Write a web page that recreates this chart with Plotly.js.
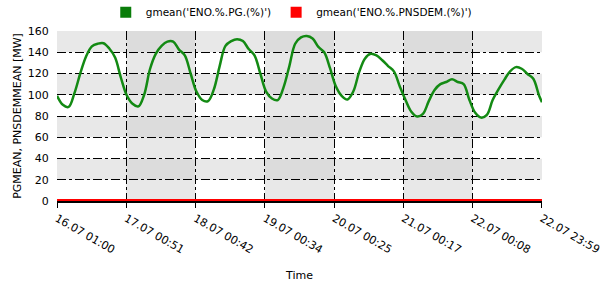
<!DOCTYPE html>
<html>
<head>
<meta charset="utf-8">
<script src="https://cdn.plot.ly/plotly-3.0.1.min.js"></script>
<style>
  html, body { margin: 0; padding: 0; background: #ffffff; }
  #chart { width: 602px; height: 292px; }
</style>
</head>
<body>
<div id="chart"></div>
<script>
// ---- data ----
const seriesNames = ["gmean('ENO.%.PG.(%)')", "gmean('ENO.%.PNSDEM.(%)')"];
const startTime = "2023-07-16 01:00";
const endTime = "2023-07-22 23:59";
const stepHours = 2;

// PG mean [MW], every 2 hours from start, last value at end time
const pgValues = [
  99, 90.5, 88.5, 101.5, 120, 136, 145.5, 148, 148.5, 143.5, 135, 116,
  99.5, 91.5, 89, 100, 124, 138.5, 146, 150, 150, 142.5, 137, 120,
  103, 95, 94, 105, 127, 146, 150.5, 152.3, 150.5, 143, 137, 120,
  103, 96.5, 95, 107, 127, 148, 154, 155.3, 153, 145, 140, 125,
  108, 99, 95.5, 103, 121, 134, 138.5, 137, 132.5, 127, 122, 108,
  95, 84, 79.5, 82, 94, 104.5, 110, 112, 114.5, 112, 110, 95,
  83, 78.5, 81, 95, 105, 114, 122, 126, 124.5, 119.5, 115, 99,
  93
];

// PNSDEM mean [MW], same sampling
const pnsdemValues = [
  1, 1, 1, 1, 1, 1, 1, 1, 1, 1, 1, 1,
  1, 1, 1, 1, 1, 1, 1, 1, 1, 1, 1, 1,
  1, 1, 1, 1, 1, 1, 1, 1, 1, 1, 1, 1,
  1, 1, 1, 1, 1, 1, 1, 1, 1, 1, 1, 1,
  1, 1, 1, 1, 1, 1, 1, 1, 1, 1, 1, 1,
  1, 1, 1, 1, 1, 1, 1, 1, 1, 1, 1, 1,
  1, 1, 1, 1, 1, 1, 1, 1, 1, 1, 1, 1,
  1
];

const tickTimes = [
  "2023-07-16 01:00", "2023-07-17 00:51", "2023-07-18 00:42", "2023-07-19 00:34",
  "2023-07-20 00:25", "2023-07-21 00:17", "2023-07-22 00:08", "2023-07-22 23:59"
];
const tickLabels = [
  "16.07 01:00", "17.07 00:51", "18.07 00:42", "19.07 00:34",
  "20.07 00:25", "21.07 00:17", "22.07 00:08", "22.07 23:59"
];
const yTicks = [0, 20, 40, 60, 80, 100, 120, 140, 160];

// ---- build time index ----
function fmt(d) {
  const p = n => String(n).padStart(2, '0');
  return d.getUTCFullYear() + '-' + p(d.getUTCMonth() + 1) + '-' + p(d.getUTCDate()) +
         ' ' + p(d.getUTCHours()) + ':' + p(d.getUTCMinutes()) + ':' + p(d.getUTCSeconds());
}
const t0 = new Date(startTime.replace(' ', 'T') + ':00Z');
const t1 = new Date(endTime.replace(' ', 'T') + ':00Z');
const times = [];
for (let i = 0; i < pgValues.length - 1; i++) {
  times.push(fmt(new Date(t0.getTime() + i * stepHours * 3600000)));
}
times.push(endTime);
// tiny padding so that boundary ticks are kept
const rangeStart = fmt(new Date(t0.getTime() - 20000));
const rangeEnd = fmt(new Date(t1.getTime() + 20000));

// ---- checkerboard background ----
const shapes = [];
for (let i = 0; i < tickTimes.length - 1; i++) {
  for (let j = 0; j < yTicks.length - 1; j++) {
    const grayRow = (j % 2 === 1);
    const darkCol = (i % 2 === 1);
    let color;
    if (grayRow) color = darkCol ? '#dcdcdc' : '#e8e8e8';
    else color = darkCol ? '#e8e8e8' : '#ffffff';
    shapes.push({
      type: 'rect', xref: 'x', yref: 'y', layer: 'below',
      x0: tickTimes[i], x1: tickTimes[i + 1], y0: yTicks[j], y1: yTicks[j + 1],
      fillcolor: color, line: { width: 0 }
    });
  }
}

const font = { family: 'DejaVu Sans, Verdana, sans-serif', size: 11, color: '#000000' };
const legendFont = { family: 'DejaVu Sans, Verdana, sans-serif', size: 10.5, color: '#000000' };

const traces = [
  { x: times, y: pgValues, type: 'scatter', mode: 'lines', name: seriesNames[0],
    line: { color: '#138a13', width: 2.5, shape: 'spline', smoothing: 1 }, showlegend: false, hoverinfo: 'skip' },
  { x: times, y: pnsdemValues, type: 'scatter', mode: 'lines', name: seriesNames[1],
    line: { color: '#ff0000', width: 2 }, showlegend: false, hoverinfo: 'skip' },
  { x: [null], y: [null], type: 'scatter', mode: 'markers', name: seriesNames[0],
    marker: { symbol: 'square', size: 11, color: '#0a7d0a' } },
  { x: [null], y: [null], type: 'scatter', mode: 'markers', name: seriesNames[1],
    marker: { symbol: 'square', size: 11, color: '#ff0000' } }
];

const layout = {
  width: 602, height: 292,
  margin: { l: 57, r: 60, t: 31, b: 91, autoexpand: false },
  paper_bgcolor: '#ffffff', plot_bgcolor: '#ffffff',
  font: font,
  showlegend: true,
  legend: { orientation: 'h', x: 0.483, xanchor: 'center', y: 1.11, yanchor: 'middle',
            font: legendFont, bgcolor: 'rgba(0,0,0,0)', itemwidth: 30 },
  xaxis: {
    type: 'date', range: [rangeStart, rangeEnd],
    tickmode: 'array', tickvals: tickTimes, ticktext: tickLabels, tickangle: 30,
    ticks: 'outside', ticklen: 5, tickcolor: '#000000', tickwidth: 1,
    showgrid: true, gridcolor: '#000000', gridwidth: 1, griddash: 'dashdot',
    showline: true, linecolor: '#000000', linewidth: 2, zeroline: false,
    tickfont: font,
    title: { text: 'Time', font: font, standoff: 16 }
  },
  yaxis: {
    range: [0, 160], tickmode: 'array', tickvals: yTicks,
    ticks: 'outside', ticklen: 5, tickcolor: 'rgba(0,0,0,0)',
    showgrid: true, gridcolor: '#000000', gridwidth: 1, griddash: 'dashdot',
    showline: false, zeroline: false,
    tickfont: font,
    title: { text: 'PGMEAN, PNSDEMMEAN [MW]', font: font, standoff: 3 }
  },
  shapes: shapes
};

Plotly.newPlot('chart', traces, layout, { displayModeBar: false, staticPlot: true });
</script>
</body>
</html>
